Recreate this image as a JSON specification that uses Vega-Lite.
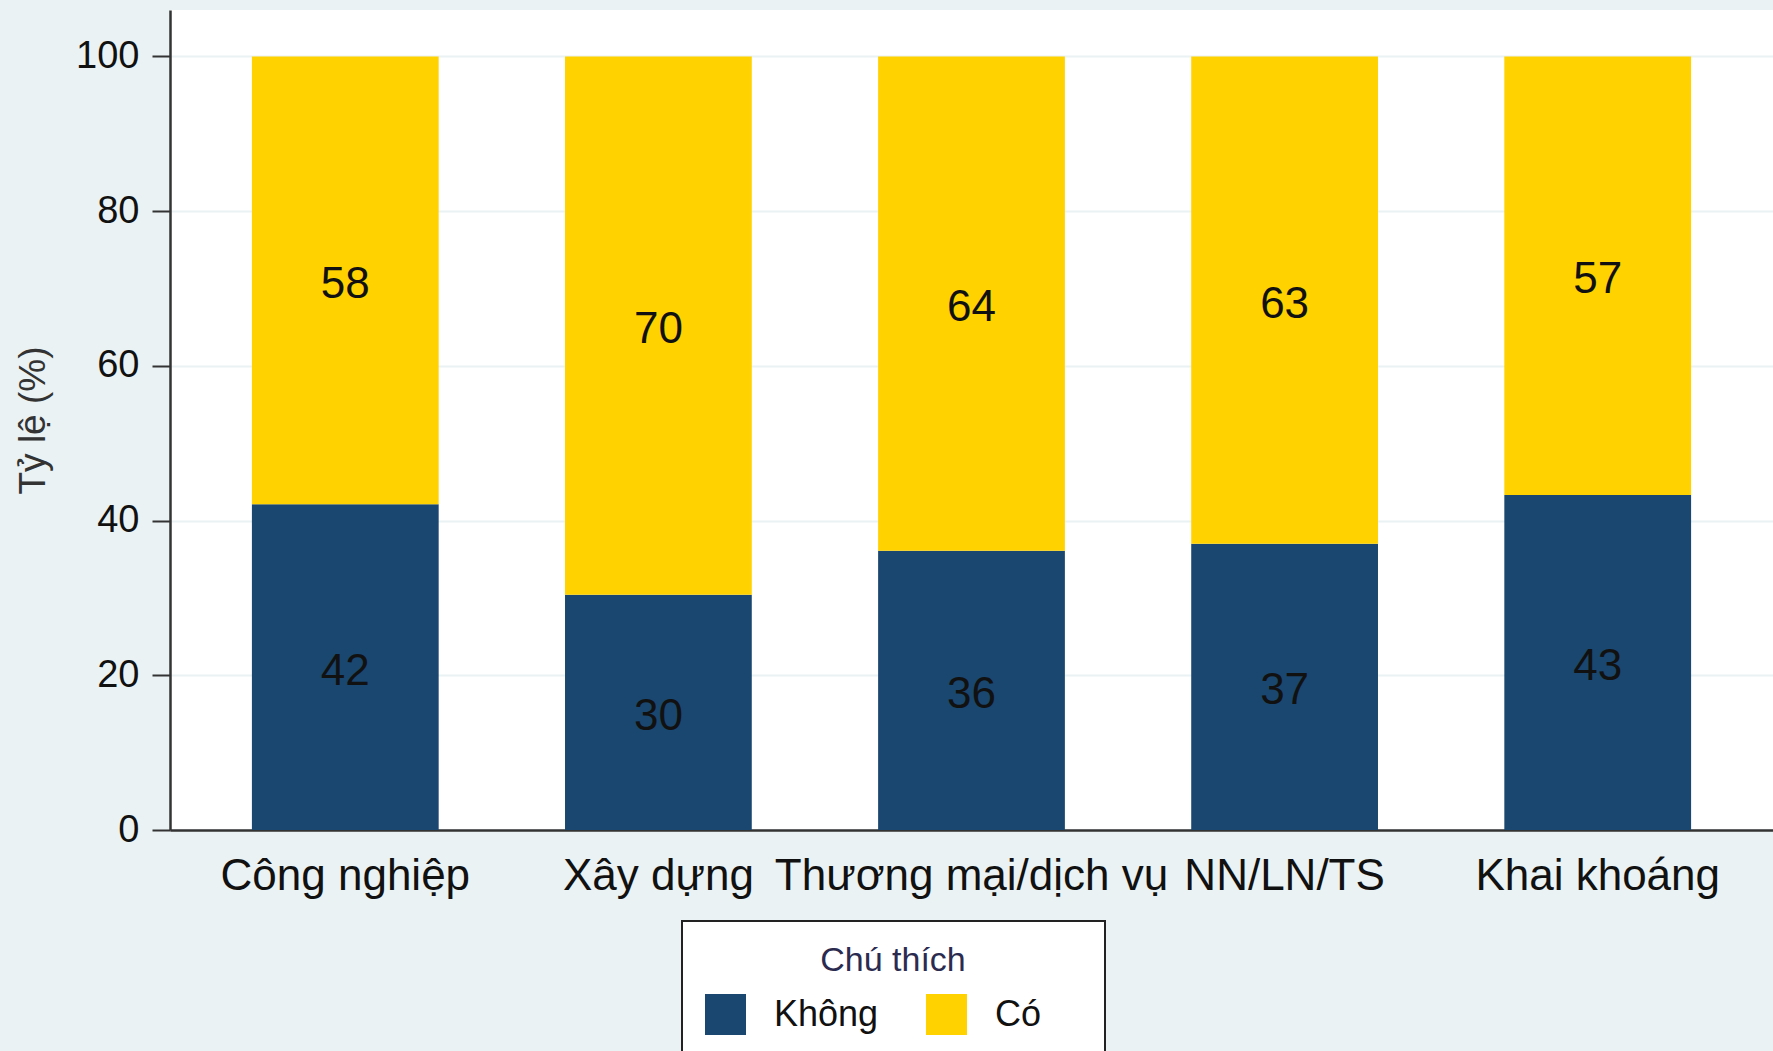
{
  "$schema": "https://vega.github.io/schema/vega-lite/v6.json",
  "width": 1603,
  "height": 820,
  "autosize": {"type": "none"},
  "padding": {"left": 170, "top": 10, "right": 0, "bottom": 221},
  "background": "#eaf2f3",
  "config": {
    "view": {"fill": "#ffffff", "stroke": null},
    "font": "Liberation Sans",
    "legend": {"strokeWidth": 2}
  },
  "data": {
    "values": [
      {"cat": "Công nghiệp", "group": "Không", "pct": 42.1},
      {"cat": "Công nghiệp", "group": "Có", "pct": 57.9},
      {"cat": "Xây dựng", "group": "Không", "pct": 30.4},
      {"cat": "Xây dựng", "group": "Có", "pct": 69.6},
      {"cat": "Thương mại/dịch vụ", "group": "Không", "pct": 36.1},
      {"cat": "Thương mại/dịch vụ", "group": "Có", "pct": 63.9},
      {"cat": "NN/LN/TS", "group": "Không", "pct": 37.0},
      {"cat": "NN/LN/TS", "group": "Có", "pct": 63.0},
      {"cat": "Khai khoáng", "group": "Không", "pct": 43.3},
      {"cat": "Khai khoáng", "group": "Có", "pct": 56.7}
    ]
  },
  "encoding": {
    "x": {
      "field": "cat",
      "type": "nominal",
      "sort": ["Công nghiệp", "Xây dựng", "Thương mại/dịch vụ", "NN/LN/TS", "Khai khoáng"],
      "scale": {"paddingInner": 0.4035, "paddingOuter": 0.2616},
      "axis": {
        "title": null,
        "labelAngle": 0,
        "labelFontSize": 44,
        "labelColor": "#111111",
        "labelPadding": 24,
        "labelLimit": 1000,
        "labelOverlap": false,
        "labelFlush": false,
        "ticks": false,
        "grid": false,
        "domainColor": "#333333",
        "domainWidth": 2.5
      }
    }
  },
  "layer": [
    {
      "mark": {"type": "bar"},
      "encoding": {
        "y": {
          "field": "pct",
          "type": "quantitative",
          "stack": "zero",
          "title": "Tỷ lệ (%)",
          "scale": {"domain": [0, 106], "nice": false},
          "axis": {
            "values": [0, 20, 40, 60, 80, 100],
            "labelFontSize": 38,
            "labelColor": "#111111",
            "tickSize": 18,
            "tickWidth": 2,
            "tickColor": "#333333",
            "labelPadding": 13,
            "domainColor": "#333333",
            "domainWidth": 2.5,
            "gridColor": "#eaf2f3",
            "gridWidth": 2,
            "titleFontSize": 37,
            "titleFontWeight": "normal",
            "titleColor": "#333333",
            "titlePadding": 23
          }
        },
        "color": {
          "field": "group",
          "type": "nominal",
          "scale": {"domain": ["Không", "Có"], "range": ["#1a476f", "#ffd200"]},
          "legend": {
            "orient": "none",
            "legendX": 512,
            "legendY": 911,
            "direction": "horizontal",
            "columns": 2,
            "title": "Chú thích",
            "titleFontSize": 34,
            "titleFontWeight": "normal",
            "titleColor": "#2b2b50",
            "titleAnchor": "middle",
            "titlePadding": 16,
            "labelFontSize": 36,
            "labelColor": "#111111",
            "labelExpr": "datum.label === 'Có' ? 'Có\u00a0\u00a0\u00a0\u00a0\u200b' : datum.label",
            "symbolType": "square",
            "symbolSize": 1681,
            "symbolStrokeWidth": 0,
            "symbolOpacity": 1,
            "labelOffset": 28,
            "columnPadding": 47,
            "gridAlign": "all",
            "padding": 23,
            "fillColor": "#ffffff",
            "strokeColor": "#222222"
          }
        },
        "order": {"field": "group", "sort": "descending"}
      }
    },
    {
      "transform": [
        {"stack": "pct", "groupby": ["cat"], "sort": [{"field": "group", "order": "descending"}], "as": ["lo", "hi"]},
        {"fold": ["lo", "hi"], "as": ["edge", "pos"]}
      ],
      "mark": {"type": "text", "fontSize": 44, "color": "#111111", "baseline": "middle", "align": "center", "dy": 4.5},
      "encoding": {
        "y": {"aggregate": "mean", "field": "pos", "type": "quantitative", "title": "Tỷ lệ (%)"},
        "text": {"field": "pct", "type": "quantitative", "format": ".0f"},
        "detail": {"field": "group", "type": "nominal"}
      }
    }
  ]
}
